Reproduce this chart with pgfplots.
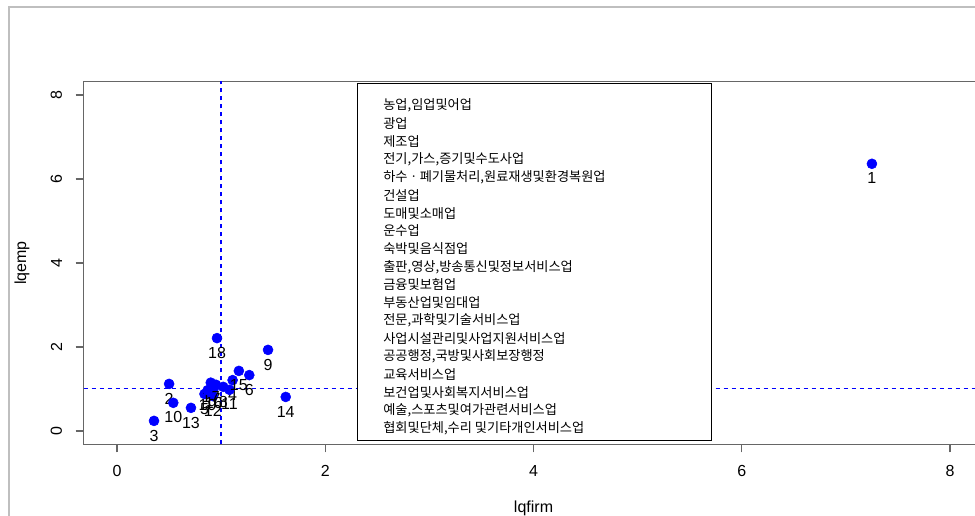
\documentclass[border=0pt]{standalone}
\usepackage{fontspec}
\setmainfont{Liberation Sans}
\newfontfamily\kr{Noto Sans CJK KR}
\usepackage{pgfplots}
\pgfplotsset{compat=1.18}
\usepackage{pgfplotstable}
\definecolor{rblue}{RGB}{0,0,255}

\pgfplotstableread{
x y lab
7.25 6.36 1
0.50 1.12 2
0.355 0.24 3
1.11 1.21 4
0.84 0.88 5
1.27 1.33 6
0.95 1.10 7
1.02 1.05 8
1.45 1.93 9
0.54 0.67 10
1.08 0.98 11
0.92 0.83 12
0.71 0.55 13
1.62 0.81 14
1.17 1.43 15
0.93 1.02 16
0.90 1.15 17
0.96 2.21 18
0.87 0.97 19
}\lqdata

\begin{document}
\begin{tikzpicture}
\begin{axis}[
  at={(0,0)}, anchor=south west,
  scale only axis, width=674.7pt, height=272.2pt,
  xmin=-0.32, xmax=8.32, ymin=-0.32, ymax=8.32,
  xtick={0,2,4,6,8}, ytick={0,2,4,6,8},
  xtick pos=lower, ytick pos=left,
  tick align=outside, major tick length=6pt,
  axis line style={black!60, line width=0.9pt},
  tick style={black!60, line width=0.9pt},
  /pgf/number format/assume math mode=true,
  ticklabel style={font=\fontsize{12}{14}\selectfont},
  yticklabel style={rotate=90, anchor=south, yshift=6.75pt},
  xticklabel style={yshift=-6.5pt},
  xlabel={lqfirm}, ylabel={lqemp},
  label style={font=\fontsize{12}{14}\selectfont},
  xlabel style={at={(axis description cs:0.5,-0.175)}, anchor=center},
  ylabel style={at={(axis description cs:-0.0686,0.5)}, anchor=center},
]
\addplot[draw=rblue, line width=0.8pt, dash pattern=on 3pt off 3pt] coordinates {(-0.32,1) (8.32,1)};
\addplot[draw=rblue, line width=1.15pt, dash pattern=on 3pt off 3pt] coordinates {(1.0,-0.32) (1.0,8.32)};
\draw[black, line width=0.75pt, fill=white] (axis cs:2.305,-0.238) rectangle (axis cs:5.705,8.262);
\addplot[only marks, mark=*, mark size=3.75pt, rblue,
  nodes near coords, point meta=explicit symbolic,
  every node near coord/.append style={font=\fontsize{12}{14}\selectfont, black, anchor=center, yshift=-11pt, inner sep=0pt}]
  table[x=x, y=y, meta=lab] {\lqdata};
\begin{scope}[every node/.style={anchor=west, inner sep=0pt, font=\kr\fontsize{9.9}{12}\selectfont}]
\node at (axis cs:2.555,7.750) {농업,임업및어업};
\node at (axis cs:2.555,7.323) {광업};
\node at (axis cs:2.555,6.896) {제조업};
\node at (axis cs:2.555,6.469) {전기,가스,증기및수도사업};
\node at (axis cs:2.555,6.042) {하수ㆍ폐기물처리,원료재생및환경복원업};
\node at (axis cs:2.555,5.614) {건설업};
\node at (axis cs:2.555,5.187) {도매및소매업};
\node at (axis cs:2.555,4.760) {운수업};
\node at (axis cs:2.555,4.333) {숙박및음식점업};
\node at (axis cs:2.555,3.906) {출판,영상,방송통신및정보서비스업};
\node at (axis cs:2.555,3.479) {금융및보험업};
\node at (axis cs:2.555,3.052) {부동산업및임대업};
\node at (axis cs:2.555,2.625) {전문,과학및기술서비스업};
\node at (axis cs:2.555,2.198) {사업시설관리및사업지원서비스업};
\node at (axis cs:2.555,1.771) {공공행정,국방및사회보장행정};
\node at (axis cs:2.555,1.343) {교육서비스업};
\node at (axis cs:2.555,0.916) {보건업및사회복지서비스업};
\node at (axis cs:2.555,0.489) {예술,스포츠및여가관련서비스업};
\node at (axis cs:2.555,0.062) {협회및단체,수리 및기타개인서비스업};
\end{scope}
\end{axis}
\draw[black!25, line width=0.9pt] (-56pt,-60pt) -- (-56pt,328.05pt) -- (700pt,328.05pt);
\pgfresetboundingbox
\path[use as bounding box] (-62.8pt,-52.95pt) rectangle (668.45pt,333.3pt);
\end{tikzpicture}
\end{document}
